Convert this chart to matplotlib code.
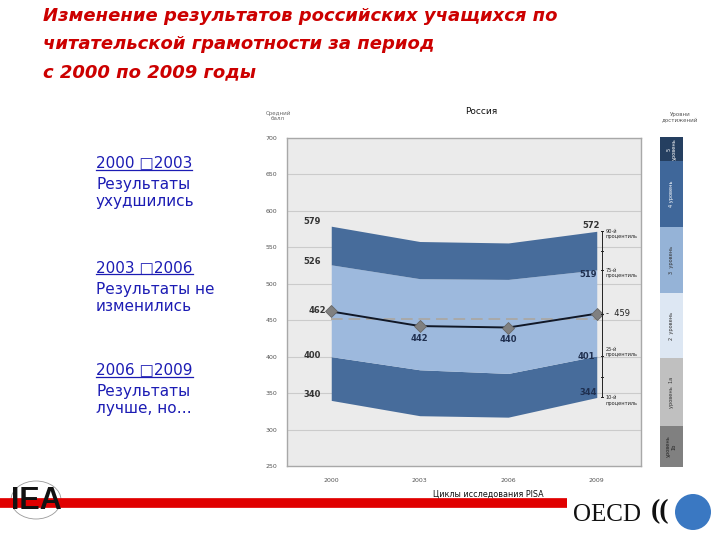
import matplotlib
matplotlib.use("Agg")
import matplotlib.pyplot as plt
from matplotlib.lines import Line2D
from matplotlib.patches import Ellipse

# данные PISA, чтение, Россия
years = ["2000", "2003", "2006", "2009"]
p90 = [579, 558, 556, 572]
p75 = [526, 507, 506, 519]
mean = [462, 442, 440, 459]
p25 = [400, 382, 377, 401]
p10 = [340, 319, 317, 344]
ref_line = 451
yticks = [250, 300, 350, 400, 450, 500, 550, 600, 650, 700]

level_bounds = [250, 306, 398, 487, 577, 667, 700]
level_names = ["уровень\n1b", "уровень  1а", "2  уровень", "3  уровень", "4 уровень", "5\nуровень"]
level_colors = ["#808080", "#c0c0c0", "#dde7f3", "#95b3d7", "#3f679a", "#253f60"]
level_text = ["#222222", "#333333", "#333333", "#333333", "white", "white"]

title_lines = ["Изменение результатов российских учащихся по",
               "читательской грамотности за период",
               "с 2000 по 2009 годы"]
left_blocks = [("2000 \u25a12003", "Результаты\nухудшились"),
               ("2003 \u25a12006", "Результаты не\nизменились"),
               ("2006 \u25a12009", "Результаты\nлучше, но\u2026")]

W, H = 720, 540
fig = plt.figure(figsize=(7.2, 5.4), dpi=100)
fig.patch.set_facecolor("white")


def fx(px):
    return px / W


def fy(py):
    return 1 - py / H


# заголовок
for line, ty in zip(title_lines, [16, 44, 72]):
    fig.text(fx(43), fy(ty), line, color="#cc0000", fontsize=13,
             fontweight="bold", fontstyle="italic", family="DejaVu Sans",
             va="center", ha="left")

# основной график
ax = fig.add_axes([fx(287), fy(466), fx(641) - fx(287), fy(138) - fy(466)])
ax.set_facecolor("#ebebeb")
x = list(range(len(years)))
ax.set_xlim(-0.5, 3.5)
ax.set_ylim(250, 700)
for v in yticks[1:-1]:
    ax.axhline(v, color="#cbcbcb", lw=0.8, zorder=1)
dark = "#476c9b"
light = "#9db9dd"
ax.fill_between(x, p10, p25, color=dark, lw=0, zorder=2)
ax.fill_between(x, p25, p75, color=light, lw=0, zorder=2)
ax.fill_between(x, p75, p90, color=dark, lw=0, zorder=2)
ax.axhline(ref_line, xmin=0.125, xmax=0.875, color="#a9a9a9", lw=1.4,
           ls=(0, (6, 3)), zorder=3)
ax.plot(x, mean, color="#111827", lw=1.4, zorder=4)
ax.plot(x, mean, ls="none", marker="D", ms=6, mfc="#808080", mec="#666666",
        mew=0.6, zorder=5)
ax.set_xticks(x)
ax.set_xticklabels(years)
ax.set_yticks(yticks)
ax.tick_params(length=0, labelsize=4.5, labelcolor="#555555", pad=7)
ax.tick_params(axis="x", pad=9)
for s in ax.spines.values():
    s.set_color("#a8a8a8")
    s.set_linewidth(1.0)

lab = dict(fontsize=6, fontweight="bold", color="#333333", zorder=6)
ax.text(-0.12, p90[0] + 6, str(p90[0]), ha="right", va="center", **lab)
ax.text(-0.12, p75[0] + 4, str(p75[0]), ha="right", va="center", **lab)
ax.text(-0.06, mean[0] + 1, str(mean[0]), ha="right", va="center", **lab)
ax.text(-0.12, p25[0] + 1, str(p25[0]), ha="right", va="center", **lab)
ax.text(-0.12, p10[0] + 8, str(p10[0]), ha="right", va="center", **lab)
nav = dict(lab, color="#1f2f4f")
ax.text(1, mean[1] - 17, str(mean[1]), ha="center", va="center", **nav)
ax.text(2, mean[2] - 17, str(mean[2]), ha="center", va="center", **nav)
ax.text(2.94, p90[3] + 8, str(p90[3]), ha="center", va="center", **lab)
ax.text(2.9, p75[3] - 6, str(p75[3]), ha="center", va="center", **nav)
ax.text(2.88, p25[3] - 1, str(p25[3]), ha="center", va="center", **nav)
ax.text(2.9, p10[3] + 7, str(p10[3]), ha="center", va="center", **nav)

# скобка процентилей справа
bx = 3.06
ax.plot([bx, bx], [p10[3], p90[3]], color="#222222", lw=0.7, clip_on=False, zorder=6)
marks = [p90[3], (p90[3] + p75[3]) / 2, p75[3], mean[3], p25[3], (p25[3] + p10[3]) / 2, p10[3]]
for m in marks:
    ax.plot([bx - 0.015, bx + 0.015], [m, m], color="#222222", lw=0.7,
            clip_on=False, zorder=6)
ptxt = dict(fontsize=3.6, color="#222222", ha="left", va="center", linespacing=1.1)
ax.text(bx + 0.04, p90[3] - 4, "90-й\nпроцентиль", **ptxt)
ax.text(bx + 0.04, p75[3] - 4, "75-й\nпроцентиль", **ptxt)
ax.text(bx + 0.04, p25[3] + 5, "25-й\nпроцентиль", **ptxt)
ax.text(bx + 0.04, p10[3] - 4, "10-й\nпроцентиль", **ptxt)
ax.text(bx + 0.05, mean[3], "-  " + str(mean[3]), fontsize=6, color="#222222",
        ha="left", va="center")

fig.text(fx(481), fy(112), "Россия", fontsize=6.5, color="#111111",
         ha="center", va="center", family="DejaVu Sans")
fig.text(fx(278), fy(116), "Средний\nбалл", fontsize=4, color="#666666",
         ha="center", va="center", linespacing=1.1)
fig.text(fx(488), fy(494), "Циклы исследования PISA", fontsize=5.8,
         color="#111111", ha="center", va="center")

# шкала уровней
lax = fig.add_axes([fx(660), fy(467), fx(683) - fx(660), fy(137) - fy(467)])
lax.set_ylim(250, 700)
lax.set_xlim(0, 1)
for i in range(len(level_names)):
    lo, hi = level_bounds[i], level_bounds[i + 1]
    lax.bar(0.5, hi - lo, bottom=lo, width=1, color=level_colors[i], lw=0)
    lax.text(0.5, (lo + hi) / 2, level_names[i], rotation=90, fontsize=3.6,
             color=level_text[i], ha="center", va="center", linespacing=1.1)
lax.axis("off")
fig.text(fx(680), fy(117), "Уровни\nдостижений", fontsize=4, color="#555555",
         ha="center", va="center", linespacing=1.1)

# левый текст
blue = "#1c1cb4"
heads_y = [163, 268, 370]
fig.canvas.draw()
rend = fig.canvas.get_renderer()
for (head, body), hy in zip(left_blocks, heads_y):
    t = fig.text(fx(96), fy(hy), head, fontsize=11, color=blue, ha="left",
                 va="center", family="DejaVu Sans")
    bb = t.get_window_extent(rend)
    yl = bb.y0 + 1
    fig.add_artist(Line2D([bb.x0 / W, bb.x1 / W], [yl / H, yl / H],
                          transform=fig.transFigure, color=blue, lw=0.9))
    fig.text(fx(96), fy(hy + 14), body, fontsize=11, color=blue, ha="left",
             va="top", family="DejaVu Sans", linespacing=1.2)

# нижняя полоса и логотипы
fig.add_artist(Line2D([0, fx(567)], [fy(503), fy(503)], transform=fig.transFigure,
                      color="#e00000", lw=7, solid_capstyle="butt"))
fig.add_artist(Ellipse((fx(36), fy(500)), fx(50), 38 / H, transform=fig.transFigure,
                       fill=False, ec="#999999", lw=0.6))
fig.text(fx(36), fy(501), "IEA", fontsize=22, fontweight="bold", color="#111111",
         ha="center", va="center", family="Liberation Sans")
fig.text(fx(607), fy(515), "OECD", fontsize=18, color="#111111", ha="center",
         va="center", family="Liberation Serif")
fig.text(fx(660), fy(512), "((", fontsize=20, fontweight="bold", color="#111111",
         ha="center", va="center", family="Liberation Serif")
fig.add_artist(Ellipse((fx(693), fy(512)), 36 / W, 36 / H, transform=fig.transFigure,
                       color="#3a78c2", lw=0))

fig.savefig("out.png", dpi=100)
